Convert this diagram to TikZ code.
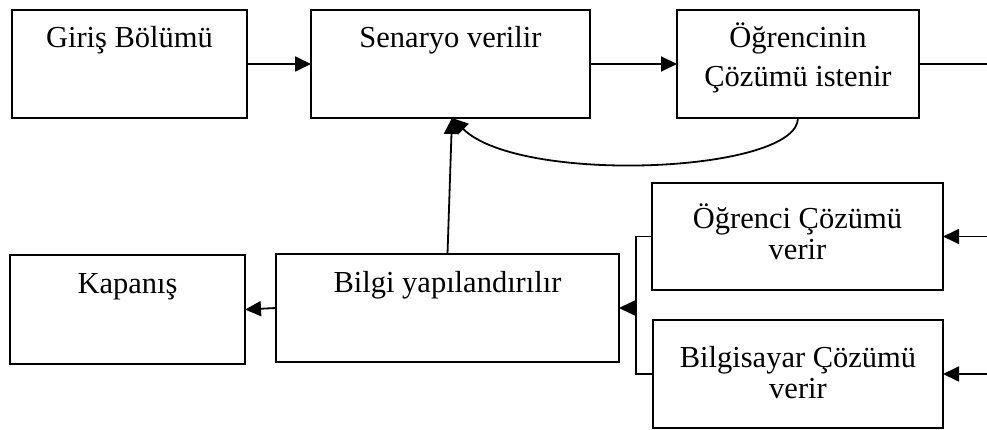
\documentclass[tikz,border=0pt]{standalone}
\usepackage{fontspec}
\setmainfont{Liberation Serif}
\usepackage{tikz}
\usetikzlibrary{arrows.meta,calc}
\newcommand{\boxtext}[4]{\parbox[c][#2][t]{#1}{\centering\rule{0pt}{#3}#4}}

\begin{document}
\begin{tikzpicture}[x=1pt, y=-1pt]
\tikzset{
  stage/.style={rectangle, draw=black, line width=1.8pt, inner sep=0pt, outer sep=0pt,
    font=\fontsize{30.5}{31}\selectfont},
  fl/.style={-{Triangle[length=16pt, width=15pt]}, line width=1.8pt},
  ln/.style={line width=1.8pt}
}
\useasboundingbox (0,0) rectangle (987,430);
\node[stage] (giris)      at (129.5, 64)  {\boxtext{235pt}{108pt}{38pt}{Giriş Bölümü}};
\node[stage] (senaryo)    at (450.5, 64)  {\boxtext{279pt}{108pt}{38pt}{Senaryo verilir}};
\node[stage] (istenir)    at (798, 64)    {\boxtext{242pt}{108pt}{38pt}{Öğrencinin\\[8pt]Çözümü istenir}};
\node[stage] (kapanis)    at (127.5, 309.5) {\boxtext{235pt}{109pt}{38pt}{Kapanış}};
\node[stage] (bilgi)      at (447.5, 308) {\boxtext{343pt}{108pt}{38pt}{Bilgi yapılandırılır}};
\node[stage] (ogrenci)    at (797.5, 236.5) {\boxtext{291pt}{107pt}{46pt}{Öğrenci Çözümü\\verir}};
\node[stage] (bilgisayar) at (798, 374)   {\boxtext{290pt}{108pt}{47pt}{Bilgisayar Çözümü\\verir}};
\coordinate (outtop) at (987, 64);
\coordinate (inogr)  at (987, 236.5);
\coordinate (inbil)  at (987, 374);
\coordinate (brk)    at (636, 308);
\draw[fl] (giris.east) -- (senaryo.west);
\draw[fl] (senaryo.east) -- (istenir.west);
\draw[ln] (istenir.east) -- (outtop);
\draw[fl] (istenir.south) .. controls +(0,55) and (520,185) .. ([xshift=1.5pt]senaryo.south);
\draw[fl] (bilgi.north) -- ([xshift=1.5pt]senaryo.south);
\draw[fl] (bilgi.west) -- (kapanis.east);
\draw[ln] (ogrenci.west) -| (brk) |- (bilgisayar.west);
\draw[fl] (brk) -- (bilgi.east);
\draw[fl] (inogr) -- (ogrenci.east);
\draw[fl] (inbil) -- (bilgisayar.east);
\end{tikzpicture}
\end{document}
